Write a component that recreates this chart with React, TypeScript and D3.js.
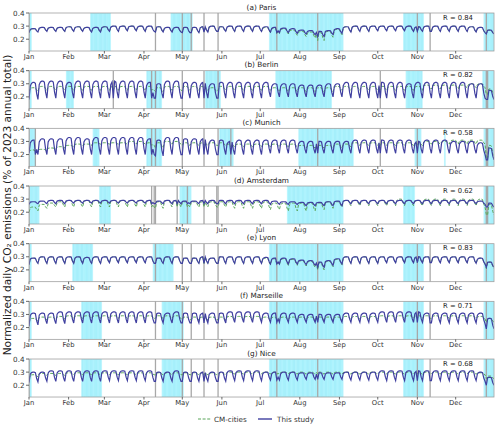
import React from 'react';
import * as d3 from 'd3';

// ---- data (weekly weekday level "hi" and weekend level "lo"; index 0 = Sun Jan 1, then Mon–Sun weeks) ----
const PANELS = ['(a) Paris', '(b) Berlin', '(c) Munich', '(d) Amsterdam', '(e) Lyon', '(f) Marseille', '(g) Nice'];
const R_VALUES = [0.84, 0.82, 0.58, 0.62, 0.83, 0.71, 0.68];
const MONTHS = ['Jan', 'Feb', 'Mar', 'Apr', 'May', 'Jun', 'Jul', 'Aug', 'Sep', 'Oct', 'Nov', 'Dec'];
const Y_TICKS = [0.2, 0.3, 0.4];

const parisStudyHi = [.25, .28,.29,.29,.29, .295,.295,.29,.29, .295,.30,.30,.30,.30, .30,.295,.29,.29, .29,.29,.295,.30,.295, .30,.30,.30,.30, .295,.29,.285,.28, .27,.265,.26,.265,.28, .295,.30,.30,.30, .30,.30,.30,.30,.295, .30,.30,.30,.30, .30,.295,.29,.27];
const parisStudyLo = [.25, .255,.26,.26,.26, .26,.26,.255,.255, .26,.26,.265,.265,.26, .26,.255,.255,.255, .25,.25,.255,.26,.26, .26,.26,.26,.26, .255,.25,.25,.245, .24,.235,.22,.235,.245, .255,.26,.26,.265, .265,.265,.265,.26,.26, .26,.26,.26,.26, .26,.255,.25,.24];
const parisCmHi = [.25, .28,.29,.29,.29, .295,.295,.29,.29, .295,.30,.30,.30,.30, .30,.295,.29,.29, .29,.29,.295,.30,.295, .30,.30,.30,.30, .29,.285,.28,.27, .26,.255,.25,.26,.275, .295,.30,.30,.30, .30,.30,.30,.30,.295, .30,.30,.30,.30, .30,.295,.29,.27];
const parisCmLo = [.25, .255,.26,.26,.26, .26,.26,.255,.255, .26,.26,.265,.265,.26, .26,.255,.255,.255, .25,.25,.255,.26,.26, .26,.26,.26,.26, .25,.245,.24,.23, .22,.21,.19,.215,.235, .255,.26,.26,.265, .265,.265,.265,.26,.26, .26,.26,.26,.26, .26,.255,.25,.24];

const berlinStudyHi = [.22, .31,.32,.32,.32, .31,.32,.32,.32, .32,.32,.32,.32,.32, .31,.30,.32,.32, .31,.31,.31,.30,.31, .31,.31,.31,.31, .31,.30,.30,.30, .29,.29,.29,.30,.30, .31,.31,.31,.31, .31,.31,.31,.30,.31, .31,.31,.31,.31, .31,.30,.30,.25];
const berlinStudyLo = [.18, .18,.19,.19,.19, .19,.19,.19,.19, .19,.19,.19,.19,.19, .19,.19,.19,.19, .19,.19,.19,.19,.19, .19,.19,.19,.19, .20,.20,.20,.20, .20,.20,.20,.20,.20, .19,.19,.19,.19, .19,.19,.19,.19,.19, .19,.19,.19,.19, .19,.19,.19,.18];
const berlinCmHi = [.25, .27,.28,.28,.28, .28,.28,.28,.28, .28,.28,.28,.28,.28, .28,.27,.28,.28, .28,.28,.28,.27,.28, .28,.28,.28,.28, .28,.27,.27,.27, .27,.27,.27,.27,.28, .28,.28,.28,.28, .28,.28,.28,.28,.28, .29,.29,.29,.29, .29,.30,.30,.26];
const berlinCmLo = [.24, .24,.25,.25,.25, .25,.25,.25,.25, .25,.25,.25,.25,.25, .25,.24,.25,.25, .25,.25,.25,.24,.25, .25,.25,.25,.25, .25,.24,.24,.24, .24,.24,.24,.24,.25, .25,.25,.25,.25, .25,.25,.25,.25,.25, .26,.26,.26,.26, .27,.27,.27,.22];

const munichStudyHi = [.23, .31,.32,.32,.32, .33,.33,.32,.33, .33,.33,.33,.33,.33, .32,.31,.33,.33, .32,.32,.32,.31,.31, .30,.31,.31,.31, .31,.31,.31,.31, .30,.30,.30,.30,.30, .30,.31,.31,.31, .31,.31,.31,.31,.30, .31,.31,.31,.30, .30,.30,.29,.25];
const munichStudyLo = [.21, .20,.20,.20,.20, .20,.20,.20,.20, .20,.20,.20,.20,.20, .20,.19,.20,.20, .20,.20,.20,.20,.20, .20,.20,.20,.20, .21,.21,.21,.21, .21,.21,.21,.21,.21, .21,.21,.21,.21, .21,.21,.21,.21,.21, .21,.21,.21,.21, .21,.21,.20,.16];
const munichCmHi = [.23, .235,.24,.25,.26, .27,.28,.28,.29, .29,.29,.29,.30,.30, .29,.29,.30,.30, .29,.29,.29,.29,.29, .28,.28,.28,.28, .28,.28,.28,.28, .27,.27,.27,.27,.28, .28,.29,.29,.29, .29,.29,.29,.29,.29, .30,.30,.30,.31, .31,.31,.31,.27];
const munichCmLo = [.22, .22,.23,.24,.25, .26,.27,.27,.28, .28,.28,.28,.28,.28, .27,.25,.28,.28, .27,.27,.27,.27,.27, .26,.26,.26,.26, .26,.26,.26,.26, .25,.25,.25,.25,.25, .26,.27,.27,.27, .27,.27,.27,.27,.27, .28,.28,.28,.28, .28,.28,.28,.17];

const amsterdamStudyHi = [.26, .28,.285,.29,.29, .29,.29,.29,.29, .29,.29,.29,.29,.29, .29,.285,.29,.29, .285,.285,.29,.29,.29, .29,.29,.29,.29, .29,.285,.28,.28, .275,.275,.275,.28,.285, .29,.29,.29,.29, .29,.29,.29,.29,.29, .29,.29,.29,.29, .29,.29,.285,.27];
const amsterdamStudyLo = [.26, .265,.265,.265,.265, .27,.27,.27,.27, .27,.27,.27,.27,.27, .265,.265,.265,.265, .265,.265,.265,.265,.265, .265,.265,.265,.265, .26,.26,.26,.26, .25,.25,.25,.25,.25, .265,.265,.265,.265, .265,.265,.265,.265,.265, .265,.265,.265,.265, .265,.265,.26,.24];
const amsterdamCmHi = [.21, .24,.26,.27,.28, .29,.29,.29,.29, .29,.29,.29,.29,.29, .29,.28,.29,.29, .28,.28,.28,.28,.28, .28,.28,.28,.28, .28,.27,.27,.27, .27,.27,.27,.28,.28, .29,.29,.29,.29, .29,.29,.30,.29,.29, .30,.30,.30,.30, .30,.30,.30,.26];
const amsterdamCmLo = [.20, .21,.23,.24,.24, .24,.24,.24,.24, .24,.24,.24,.24,.24, .24,.23,.24,.24, .24,.24,.24,.24,.24, .23,.23,.23,.23, .22,.22,.21,.21, .21,.21,.22,.23,.24, .25,.25,.25,.25, .25,.25,.25,.25,.25, .25,.25,.25,.25, .25,.25,.24,.18];

const lyonStudyHi = [.24, .29,.30,.30,.30, .30,.30,.295,.30, .30,.30,.30,.30,.30, .30,.29,.30,.30, .29,.29,.30,.29,.30, .30,.30,.30,.30, .295,.29,.29,.285, .275,.27,.26,.27,.285, .30,.30,.30,.30, .30,.30,.30,.30,.30, .30,.30,.30,.30, .30,.30,.29,.26];
const lyonStudyLo = [.24, .25,.25,.25,.25, .25,.25,.25,.25, .255,.255,.255,.255,.255, .25,.25,.25,.25, .25,.25,.25,.25,.25, .25,.25,.25,.25, .245,.245,.245,.245, .24,.235,.22,.235,.245, .25,.25,.25,.25, .255,.255,.255,.255,.255, .255,.255,.255,.255, .255,.25,.245,.22];
const lyonCmHi = [.24, .29,.30,.30,.30, .30,.30,.295,.30, .30,.30,.30,.30,.30, .30,.29,.30,.30, .29,.29,.30,.29,.30, .30,.30,.30,.30, .29,.285,.285,.28, .27,.265,.255,.265,.28, .30,.30,.30,.30, .30,.30,.30,.30,.30, .30,.30,.30,.30, .30,.30,.29,.26];
const lyonCmLo = [.24, .25,.25,.25,.25, .25,.25,.25,.25, .255,.255,.255,.255,.255, .25,.25,.25,.25, .25,.25,.25,.25,.25, .25,.25,.25,.25, .24,.24,.235,.235, .23,.22,.20,.225,.24, .25,.25,.25,.25, .255,.255,.255,.255,.255, .255,.255,.255,.255, .255,.25,.245,.21];

const marseilleStudyHi = [.23, .31,.31,.31,.32, .32,.32,.32,.32, .32,.32,.32,.32,.32, .32,.31,.31,.32, .31,.31,.31,.31,.31, .32,.32,.32,.32, .31,.31,.31,.31, .30,.30,.30,.30,.30, .31,.31,.31,.31, .32,.32,.32,.32,.32, .31,.31,.31,.31, .31,.31,.31,.27];
const marseilleStudyLo = [.21, .22,.23,.23,.23, .235,.235,.235,.235, .235,.235,.235,.235,.235, .235,.235,.235,.235, .235,.235,.235,.235,.235, .24,.24,.24,.24, .24,.24,.24,.24, .24,.24,.24,.24,.24, .24,.24,.24,.24, .24,.24,.24,.24,.24, .235,.235,.235,.235, .235,.235,.23,.19];
const marseilleCmHi = [.25, .27,.28,.28,.285, .29,.29,.29,.29, .29,.29,.29,.29,.29, .29,.29,.29,.29, .28,.28,.28,.28,.28, .285,.285,.285,.285, .28,.28,.28,.28, .28,.28,.28,.28,.28, .285,.285,.285,.285, .29,.29,.29,.29,.29, .29,.29,.29,.29, .29,.29,.285,.27];
const marseilleCmLo = [.24, .25,.26,.26,.265, .27,.27,.27,.27, .27,.27,.27,.27,.27, .27,.27,.27,.27, .26,.26,.26,.26,.26, .265,.265,.265,.265, .26,.26,.26,.26, .26,.26,.26,.26,.26, .265,.265,.265,.265, .27,.27,.27,.27,.27, .27,.27,.27,.27, .27,.27,.265,.24];

const niceStudyHi = [.23, .30,.30,.31,.31, .31,.31,.31,.31, .31,.31,.31,.31,.31, .31,.30,.30,.31, .30,.30,.30,.30,.30, .31,.31,.31,.31, .30,.30,.30,.30, .295,.295,.295,.295,.295, .30,.30,.30,.30, .31,.31,.31,.31,.31, .31,.31,.31,.31, .31,.31,.30,.26];
const niceStudyLo = [.22, .225,.23,.23,.23, .23,.23,.23,.23, .235,.235,.235,.235,.235, .23,.23,.23,.23, .23,.23,.23,.23,.23, .235,.235,.235,.235, .24,.24,.24,.24, .245,.245,.245,.245,.245, .24,.24,.24,.24, .235,.235,.235,.235,.235, .235,.235,.235,.235, .235,.235,.23,.20];
const niceCmHi = [.26, .28,.29,.29,.29, .295,.295,.295,.295, .295,.295,.295,.295,.295, .295,.295,.295,.295, .295,.295,.295,.295,.295, .30,.30,.30,.30, .30,.30,.30,.30, .30,.30,.30,.30,.30, .30,.30,.30,.30, .30,.30,.30,.30,.30, .30,.30,.30,.30, .30,.30,.295,.27];
const niceCmLo = [.25, .265,.275,.275,.275, .28,.28,.28,.28, .28,.28,.28,.28,.28, .28,.28,.28,.28, .28,.28,.28,.28,.28, .285,.285,.285,.285, .285,.285,.285,.285, .285,.285,.285,.285,.285, .285,.285,.285,.285, .285,.285,.285,.285,.285, .285,.285,.285,.285, .285,.285,.28,.25];

// public holidays (gray lines) and school holidays (shaded), "MM-DD"
const FR_HOLIDAYS = ['01-01', '04-10', '05-01', '05-08', '05-18', '05-29', '07-14', '08-15', '11-01', '11-11', '12-25'];
const BERLIN_HOLIDAYS = ['01-01', '03-08', '04-07', '04-10', '05-01', '05-18', '05-29', '10-03', '12-25', '12-26'];
const MUNICH_HOLIDAYS = ['01-01', '01-06', '04-07', '04-10', '05-01', '05-18', '05-29', '06-08', '08-15', '10-03', '11-01', '12-25', '12-26'];
const AMSTERDAM_HOLIDAYS = ['01-01', '04-07', '04-09', '04-10', '04-27', '05-05', '05-18', '05-28', '05-29', '12-25', '12-26'];

const PARIS_SCHOOL = [['01-01', '01-02'], ['02-18', '03-05'], ['04-22', '05-08'], ['07-08', '09-03'], ['10-21', '11-05'], ['12-23', '12-31']];
const BERLIN_SCHOOL = [['01-01', '01-02'], ['01-30', '02-04'], ['04-03', '04-14'], ['05-19', '05-30'], ['07-13', '08-25'], ['10-23', '11-04'], ['12-22', '12-31']];
const MUNICH_SCHOOL = [['01-01', '01-05'], ['02-20', '02-24'], ['04-03', '04-14'], ['05-30', '06-09'], ['07-31', '09-11'], ['10-30', '11-03'], ['11-22', '11-22'], ['12-23', '12-31']];
const AMSTERDAM_SCHOOL = [['01-01', '01-08'], ['02-25', '03-05'], ['04-29', '05-07'], ['07-22', '09-03'], ['10-21', '10-29'], ['12-23', '12-31']];
const LYON_SCHOOL = [['01-01', '01-02'], ['02-04', '02-19'], ['04-08', '04-23'], ['07-08', '09-03'], ['10-21', '11-05'], ['12-23', '12-31']];
const ZONE_B_SCHOOL = [['01-01', '01-02'], ['02-11', '02-26'], ['04-15', '05-01'], ['07-08', '09-03'], ['10-21', '11-05'], ['12-23', '12-31']];

const CITY_DATA = [
  { studyHi: parisStudyHi, studyLo: parisStudyLo, cmHi: parisCmHi, cmLo: parisCmLo, holidays: FR_HOLIDAYS, school: PARIS_SCHOOL },
  { studyHi: berlinStudyHi, studyLo: berlinStudyLo, cmHi: berlinCmHi, cmLo: berlinCmLo, holidays: BERLIN_HOLIDAYS, school: BERLIN_SCHOOL },
  { studyHi: munichStudyHi, studyLo: munichStudyLo, cmHi: munichCmHi, cmLo: munichCmLo, holidays: MUNICH_HOLIDAYS, school: MUNICH_SCHOOL },
  { studyHi: amsterdamStudyHi, studyLo: amsterdamStudyLo, cmHi: amsterdamCmHi, cmLo: amsterdamCmLo, holidays: AMSTERDAM_HOLIDAYS, school: AMSTERDAM_SCHOOL },
  { studyHi: lyonStudyHi, studyLo: lyonStudyLo, cmHi: lyonCmHi, cmLo: lyonCmLo, holidays: FR_HOLIDAYS, school: LYON_SCHOOL },
  { studyHi: marseilleStudyHi, studyLo: marseilleStudyLo, cmHi: marseilleCmHi, cmLo: marseilleCmLo, holidays: FR_HOLIDAYS, school: ZONE_B_SCHOOL },
  { studyHi: niceStudyHi, studyLo: niceStudyLo, cmHi: niceCmHi, cmLo: niceCmLo, holidays: FR_HOLIDAYS, school: ZONE_B_SCHOOL },
];

// Sun..Sat position between weekend level and weekday level
const WEEK_SHAPE = [0, 0.8, 0.95, 1, 1, 0.95, 0.35];

const START = new Date(2023, 0, 1);
const END = new Date(2023, 11, 31);
const parseDay = (s: string) => new Date(2023, +s.slice(0, 2) - 1, +s.slice(3, 5));
const dayIndex = (d: Date) => d3.timeDay.count(START, d);

function buildDaily(hi: number[], lo: number[], holidays: string[]) {
  const off = new Set(holidays.map(s => dayIndex(parseDay(s))));
  return d3.range(365).map(i => {
    const date = d3.timeDay.offset(START, i);
    const w = Math.floor((i + 6) / 7);
    const f = off.has(i) ? 0 : WEEK_SHAPE[date.getDay()];
    return { date, v: lo[w] + (hi[w] - lo[w]) * f };
  });
}

const W = 500, H = 428;
const LEFT = 29, RIGHT = 494;
const PANEL_TOP = 13, PANEL_STEP = 57.67, PANEL_H = 38;
const FONT = 'DejaVu Sans, sans-serif';
const STUDY_COLOR = '#4040a0';
const CM_COLOR = '#5aa65a';

const x = d3.scaleTime().domain([START, END]).range([LEFT, RIGHT]);

function Panel({ idx }: { idx: number }) {
  const c = CITY_DATA[idx];
  const top = PANEL_TOP + idx * PANEL_STEP;
  const y = d3.scaleLinear().domain([0.11, 0.4]).range([top + PANEL_H, top]);
  const line = d3.line<{ date: Date; v: number }>().x(d => x(d.date)).y(d => y(d.v));
  const study = buildDaily(c.studyHi, c.studyLo, c.holidays);
  const cm = buildDaily(c.cmHi, c.cmLo, c.holidays);
  const shadeDays: Date[] = [];
  c.school.forEach(([a, b]) => {
    d3.timeDay.range(parseDay(a), d3.timeDay.offset(parseDay(b), 1)).forEach(d => shadeDays.push(d));
  });
  const clipId = `clip${idx}`;
  return (
    <g>
      <clipPath id={clipId}>
        <rect x={LEFT} y={top} width={RIGHT - LEFT} height={PANEL_H} />
      </clipPath>
      <g clipPath={`url(#${clipId})`}>
        {shadeDays.map((d, i) => (
          <rect key={i} x={x(d)} y={top} width={x(d3.timeDay.offset(d, 1)) - x(d)} height={PANEL_H}
            fill="#00e1ff" fillOpacity={0.26} stroke="#00c8e8" strokeOpacity={0.12} strokeWidth={0.6} />
        ))}
        {c.holidays.map(s => (
          <line key={s} x1={x(parseDay(s))} x2={x(parseDay(s))} y1={top} y2={top + PANEL_H}
            stroke="#a8a8a8" strokeWidth={1.3} />
        ))}
        <path d={line(cm) || ''} fill="none" stroke={CM_COLOR} strokeWidth={1} strokeDasharray="3,1.6" />
        <path d={line(study) || ''} fill="none" stroke={STUDY_COLOR} strokeWidth={1.2} />
      </g>
      <rect x={LEFT} y={top} width={RIGHT - LEFT} height={PANEL_H} fill="none" stroke="#a0a0a0" strokeWidth={0.8} />
      {Y_TICKS.map(t => (
        <g key={t}>
          <line x1={LEFT - 3} x2={LEFT} y1={y(t)} y2={y(t)} stroke="#444" strokeWidth={0.8} />
          <text x={LEFT - 4.5} y={y(t)} dy="0.35em" textAnchor="end" fontSize={7.2} fill="#333" fontFamily={FONT}>
            {t.toFixed(1)}
          </text>
        </g>
      ))}
      {MONTHS.map((m, i) => {
        const xm = x(new Date(2023, i, 1));
        return (
          <g key={m}>
            <line x1={xm} x2={xm} y1={top + PANEL_H} y2={top + PANEL_H + 2.5} stroke="#444" strokeWidth={0.8} />
            <text x={xm} y={top + PANEL_H + 8} textAnchor="middle" fontSize={6.8} fill="#333" fontFamily={FONT}>{m}</text>
          </g>
        );
      })}
      <text x={(LEFT + RIGHT) / 2} y={top - 3.2} textAnchor="middle" fontSize={7.3} fill="#222" fontFamily={FONT}>
        {PANELS[idx]}
      </text>
      <text x={458} y={top + 6.5} textAnchor="middle" fontSize={6.8} fill="#222" fontFamily={FONT}>
        {`R = ${R_VALUES[idx].toFixed(2)}`}
      </text>
    </g>
  );
}

export default function App() {
  return (
    <svg width={W} height={H} style={{ position: 'absolute', left: 0, top: 0, background: '#fff' }}>
      <rect width={W} height={H} fill="#fff" />
      {PANELS.map((_, i) => <Panel key={i} idx={i} />)}
      <text transform={`translate(11,205) rotate(-90)`} textAnchor="middle" fontSize={10.6} fill="#222" fontFamily={FONT}>
        Normalized daily CO₂ emissions (% of 2023 annual total)
      </text>
      <line x1={198} x2={211} y1={419} y2={419} stroke={CM_COLOR} strokeWidth={1.2} strokeDasharray="3,1.6" />
      <text x={214} y={419} dy="0.35em" fontSize={7.2} fill="#333" fontFamily={FONT}>CM-cities</text>
      <line x1={258} x2={272} y1={419} y2={419} stroke={STUDY_COLOR} strokeWidth={1.4} />
      <text x={277} y={419} dy="0.35em" fontSize={7.2} fill="#333" fontFamily={FONT}>This study</text>
    </svg>
  );
}
